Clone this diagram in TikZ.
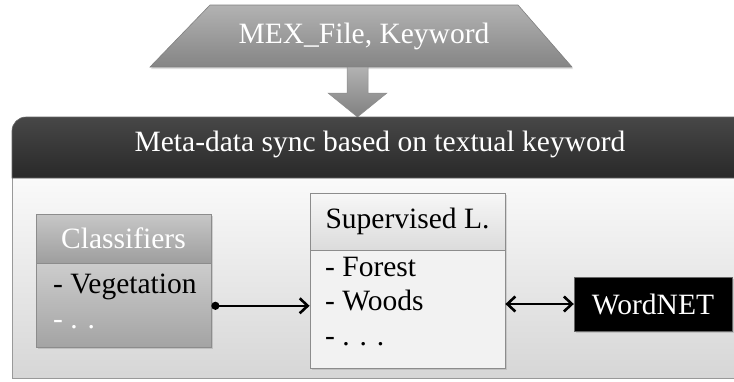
\documentclass[tikz,border=0pt]{standalone}
\usepackage{fontspec}
\setmainfont{Liberation Serif}
\usetikzlibrary{arrows.meta,calc,shadows}
\begin{document}
\begin{tikzpicture}[x=1pt,y=-1pt,
  txt/.style={font=\fontsize{29.5}{32}\selectfont},
  item/.style={txt,anchor=west,inner sep=0pt},
  conn/.style={line width=2.6pt,draw=black},
  boxedge/.style={draw=black!45,line width=0.8pt}
]
\useasboundingbox (0,0) rectangle (734,381);
% input trapezium
\path[top color=black!30,bottom color=black!48,draw=black!50,line width=0.6pt,drop shadow={opacity=0.25,shadow xshift=1pt,shadow yshift=-2pt}]
  (210,5) -- (518,5) -- (572,67) -- (150,67) -- cycle;
\node[txt,text=white] (input) at (364,36) {MEX\_File, Keyword};
% block arrow
\path[top color=black!30,bottom color=black!50,draw=black!45,line width=0.5pt]
  (347,67) -- (368,67) -- (368,93) -- (387,93) -- (357.5,117) -- (328,93) -- (347,93) -- cycle;
% container body
\path[top color=black!2,bottom color=black!16] (12,178) rectangle (745,378);
\draw[black!40,line width=1pt] (12,178) -- (12,378) -- (745,378);
% container header
\path[top color=black!72,bottom color=black!84,draw=black!60,line width=0.6pt]
  (12,178) -- (12,131) arc[start angle=180,end angle=270,radius=14] -- (745,117) -- (745,178) -- cycle;
\node[txt,text=white] (header) at (380,144) {Meta-data sync based on textual keyword};
% Classifiers box
\node[boxedge,top color=black!22,bottom color=black!38,minimum width=175pt,minimum height=49pt,inner sep=0pt,drop shadow={opacity=0.3,shadow xshift=1.5pt,shadow yshift=-1.5pt}] (clshead) at (123.5,238.5) {};
\node[txt,text=white] at (clshead.center) {Classifiers};
\node[boxedge,top color=black!20,bottom color=black!36,minimum width=175pt,minimum height=84pt,inner sep=0pt,drop shadow={opacity=0.3,shadow xshift=1.5pt,shadow yshift=-1.5pt},anchor=north] (clsbody) at (clshead.south) {};
\node[item] (veg) at (53,287) {- Vegetation};
\node[item,text=white] (clsdots) at (53,325) {- . .};
% Supervised box
\node[boxedge,top color=black!3,bottom color=black!14,minimum width=195pt,minimum height=57pt,inner sep=0pt,drop shadow={opacity=0.25,shadow xshift=1.5pt,shadow yshift=-1.5pt}] (suphead) at (407.5,221.5) {};
\node[txt] at (suphead.center) {Supervised L.};
\node[boxedge,fill=black!5,minimum width=195pt,minimum height=118pt,inner sep=0pt,drop shadow={opacity=0.25,shadow xshift=1.5pt,shadow yshift=-1.5pt},anchor=north] (supbody) at (suphead.south) {};
\node[item] (forest) at (325,267) {- Forest};
\node[item] (woods) at (325,300) {- Woods};
\node[item] (supdots) at (325,342) {- . . .};
% WordNET
\node[draw=black!60,fill=black,minimum width=158pt,minimum height=54pt,inner sep=0pt,drop shadow={opacity=0.3,shadow xshift=1.5pt,shadow yshift=-1.5pt}] (wordnet) at (653,304) {};
\node[txt,text=white] at (wordnet.center) {WordNET};
% connectors
\draw[conn,{Circle[length=8pt]}-{Straight Barb[length=8pt,width=15pt]}] (clsbody.east) -- (clsbody.east -| supbody.west);
\draw[conn,{Straight Barb[length=8pt,width=15pt]}-{Straight Barb[length=8pt,width=15pt]}] (supbody.east |- wordnet.west) -- (wordnet.west);
\end{tikzpicture}
\end{document}
